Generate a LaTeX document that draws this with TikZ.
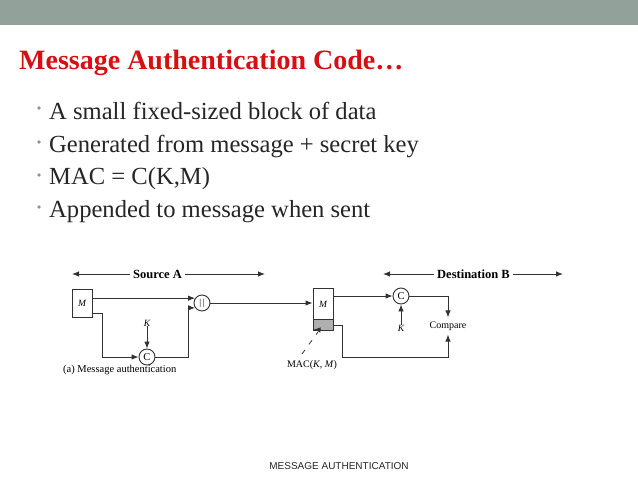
\documentclass[tikz,border=0pt]{standalone}
\usepackage{fontspec}
\setmainfont{Liberation Serif}
\newfontfamily\footfont{Liberation Sans}
\usetikzlibrary{arrows.meta}
\definecolor{barcol}{RGB}{146,161,153}
\definecolor{titlered}{RGB}{215,15,20}
\definecolor{bodytext}{RGB}{38,38,38}
\definecolor{bulletcol}{RGB}{140,150,145}
\definecolor{linecol}{RGB}{50,50,50}
\definecolor{macgray}{RGB}{175,175,175}
\tikzset{
  wire/.style={draw=linecol, line width=0.9pt},
  tip/.style={-{Latex[length=7pt,width=5.5pt]}},
  bulletline/.style={anchor=base west, inner sep=0pt, text=bodytext, font=\fontsize{24.6}{29}\selectfont},
  bulletdot/.style={circle, fill=bulletcol, inner sep=0pt, minimum size=3.6pt},
  msgbox/.style={draw=linecol, line width=0.9pt, minimum width=20pt, inner sep=0pt},
  opcirc/.style={circle, draw=linecol, line width=0.9pt, minimum size=16pt, inner sep=0pt, font=\fontsize{10.5}{10}\selectfont},
  difftext/.style={inner sep=0pt, text=black, font=\fontsize{10}{12}\selectfont},
  headtext/.style={inner sep=3pt, text=black, font=\bfseries\fontsize{12.5}{14}\selectfont}
}
\begin{document}
\begin{tikzpicture}[x=1pt,y=-1pt]
\useasboundingbox (0,0) rectangle (638,479);
\fill[white] (0,0) rectangle (638,479);
\fill[barcol] (0,0) rectangle (638,25);

\node[anchor=base west, inner sep=0pt, text=titlered, font=\bfseries\fontsize{28}{32}\selectfont] (title) at (19,69) {Message Authentication Code…};

\node[bulletdot] (b1) at (39,108) {};
\node[bulletline] (t1) at (49,119) {A small fixed-sized block of data};
\node[bulletdot] (b2) at (39,142) {};
\node[bulletline] (t2) at (49,152) {Generated from message + secret key};
\node[bulletdot] (b3) at (39,175) {};
\node[bulletline] (t3) at (49,184) {MAC = C(K,M)};
\node[bulletdot] (b4) at (39,207) {};
\node[bulletline] (t4) at (49,217) {Appended to message when sent};

% Source A header
\node[headtext] (srcA) at (157.5,274) {Source A};
\coordinate (sl) at (72,274);
\coordinate (sr) at (265,274);
\draw[wire,tip] (srcA) -- (sl);
\draw[wire,tip] (srcA) -- (sr);

% Destination B header
\node[headtext] (dstB) at (473.5,274) {Destination B};
\coordinate (dl) at (383,274);
\coordinate (dr) at (563,274);
\draw[wire,tip] (dstB) -- (dl);
\draw[wire,tip] (dstB) -- (dr);

% Source side
\node[msgbox, minimum height=28pt, font=\itshape\fontsize{9.5}{10}\selectfont] (Msrc) at (82,303) {M};
\node[opcirc, font=\fontsize{9}{9}\selectfont] (par) at (202,303) {|\kern1.5pt|};
\node[opcirc] (Csrc) at (147,357) {C};
\node[difftext, font=\itshape\fontsize{9.5}{10}\selectfont] (Ksrc) at (147,323) {K};
\coordinate (a1) at (102,313);

\draw[wire,tip] (Msrc.east |- par.145) -- (par.145);
\draw[wire,tip] (Msrc.east |- a1) -- (a1) |- (Csrc.west);
\draw[wire,tip] (Ksrc.south) -- (Csrc.north);
\draw[wire,tip] (Csrc.east) -| ([xshift=-7pt]par.215) -- (par.215);

\node[difftext, anchor=west, font=\fontsize{10.5}{12}\selectfont] (capA) at (63,370) {(a) Message authentication};

% Destination side
\node[msgbox, minimum height=31pt, font=\itshape\fontsize{9.5}{10}\selectfont, anchor=north] (Mdst) at (323,288) {M};
\node[msgbox, minimum height=11pt, fill=macgray, anchor=north] (mac) at (323,319) {};
\draw[wire,tip] (par.east) -- (Mdst.west |- par.east);

\node[opcirc] (Cdst) at (401,296) {C};
\node[difftext, font=\itshape\fontsize{9.5}{10}\selectfont] (Kdst) at (401,328) {K};
\node[difftext] (cmp) at (448,326) {Compare};
\coordinate (b1) at (342,357);

\draw[wire,tip] (Mdst.east |- Cdst) -- (Cdst.west);
\draw[wire,tip] (Kdst.north) -- (Cdst.south);
\draw[wire,tip] (Cdst.east) -| ([yshift=4pt]cmp.north);
\draw[wire,tip] (mac.east) -| (b1) -| ([yshift=-4pt]cmp.south);

\node[difftext] (maclbl) at (312,365) {MAC(\textit{K}, \textit{M})};
\coordinate (lead1) at (302,354);
\coordinate (lead2) at (318,332);
\draw[wire, line width=0.8pt, dash pattern=on 5pt off 7pt] (lead1) -- (lead2);
\draw[wire,tip] (321,330) -- (313.5,329.5);

\node[inner sep=0pt, text=bodytext, font=\footfont\fontsize{10}{12}\selectfont] (foot) at (339,466) {MESSAGE AUTHENTICATION};
\end{tikzpicture}
\end{document}
